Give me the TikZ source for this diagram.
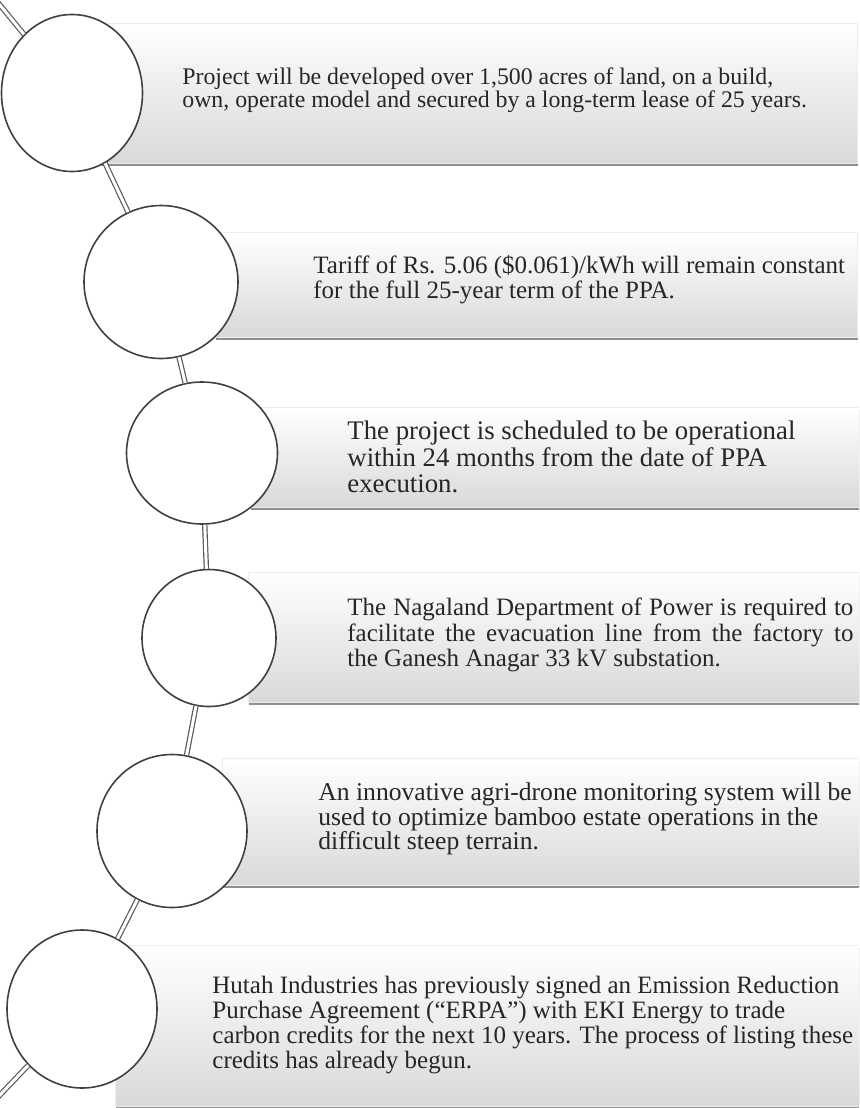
\documentclass[tikz,border=0pt]{standalone}
\usepackage{fontspec}
\setmainfont{Liberation Serif}
\usepackage{tikz}
\usetikzlibrary{shapes.geometric, shadows}

\newcommand{\spreadline}[2]{\makebox[#1][s]{#2}}

\tikzset{
  panel/.style={rectangle, draw=black!7, line width=0.5pt, inner sep=0pt,
    top color=white, middle color=white, bottom color=black!15,
    drop shadow={shadow xshift=0.3pt, shadow yshift=-1.4pt, opacity=0.8, fill=black!55}},
  ring/.style={ellipse, draw=black!75, line width=0.8pt, fill=white, inner sep=0pt},
  link/.style={draw=black!65, line width=0.6pt, double=white, double distance=1.5pt},
  txt/.style={anchor=west, align=left, inner sep=0pt, text=black!85,
    font=\fontsize{12.5}{12.6}\selectfont}
}

\begin{document}
\begin{tikzpicture}[x=0.5pt, y=-0.5pt, line join=round]

\useasboundingbox (0,0) rectangle (859,1108);
\clip (0,0) rectangle (859,1108);

% panels
\node[panel, anchor=north west, minimum width=378.5pt, minimum height=70pt] (b1) at (100,23) {};
\node[panel, anchor=north west, minimum width=321pt, minimum height=52.5pt] (b2) at (215,232) {};
\node[panel, anchor=north west, minimum width=312pt, minimum height=50pt] (b3) at (250,407) {};
\node[panel, anchor=north west, minimum width=313pt, minimum height=65pt] (b4) at (248,572) {};
\node[panel, anchor=north west, minimum width=326pt, minimum height=63.5pt] (b5) at (222,758) {};
\node[panel, anchor=north west, minimum width=379pt, minimum height=80.5pt] (b6) at (115,945) {};

% texts
\node[txt, font=\fontsize{11.9}{11.8}\selectfont] (t1) at (182,90) {Project will be developed over 1,500 acres of land, on a build,\\
  own, operate model and secured by a long-term lease of 25 years.};
\node[txt] (t2) at (313,280) {Tariff of Rs. 5.06 (\$0.061)/kWh will remain constant\\
  for the full 25-year term of the PPA.};
\node[txt, font=\fontsize{13.4}{13.4}\selectfont] (t3) at (347,457) {The project is scheduled to be operational\\
  within 24 months from the date of PPA\\ execution.};
\node[txt] (t4) at (347,635) {\spreadline{253pt}{The Nagaland Department of Power is required to}\\
  \spreadline{253pt}{facilitate the evacuation line from the factory to}\\ the Ganesh Anagar 33 kV substation.};
\node[txt, font=\fontsize{12.8}{12.2}\selectfont] (t5) at (318,819) {An innovative agri-drone monitoring system will be\\
  used to optimize bamboo estate operations in the\\ difficult steep terrain.};
\node[txt] (t6) at (212,1025) {Hutah Industries has previously signed an Emission Reduction\\
  Purchase Agreement (“ERPA”) with EKI Energy to trade\\
  carbon credits for the next 10 years. The process of listing these\\
  credits has already begun.};

% circles
\node[ring, minimum width=70.5pt, minimum height=78.5pt] (c1) at (72,93) {};
\node[ring, minimum width=77pt, minimum height=76.5pt] (c2) at (161,282) {};
\node[ring, minimum width=75.5pt, minimum height=71pt] (c3) at (202,453) {};
\node[ring, minimum width=67pt, minimum height=68.5pt] (c4) at (209,638) {};
\node[ring, minimum width=75pt, minimum height=76.5pt] (c5) at (172,831) {};
\node[ring, minimum width=75pt, minimum height=79pt] (c6) at (82,1009) {};

\coordinate (top) at (-14,-12);
\coordinate (bot) at (-22,1118);

% links
\draw[link] (top) -- (c1);
\draw[link] (c1) -- (c2);
\draw[link] (c2) -- (c3);
\draw[link] (c3) -- (c4);
\draw[link] (c4) -- (c5);
\draw[link] (c5) -- (c6);
\draw[link] (c6) -- (bot);

\end{tikzpicture}
\end{document}
